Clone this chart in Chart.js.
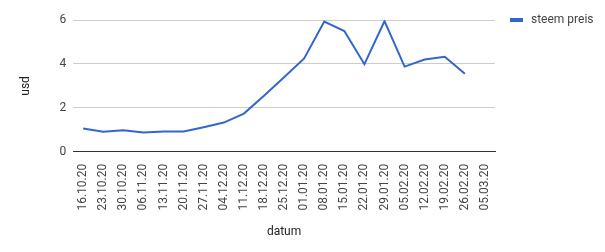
<!DOCTYPE html>
<html>
<head>
<meta charset="utf-8">
<script src="https://cdn.jsdelivr.net/npm/chart.js@4"></script>
<style>
  html, body { margin: 0; padding: 0; background: #fff; }
  #wrap { width: 605px; height: 252px; position: relative; }
</style>
</head>
<body>
<div id="wrap"><canvas id="chart"></canvas></div>
<script>
// weekly dates (dd.mm.yy)
const labels = [
  '16.10.20', '23.10.20', '30.10.20', '06.11.20', '13.11.20', '20.11.20', '27.11.20',
  '04.12.20', '11.12.20', '18.12.20', '25.12.20', '01.01.20', '08.01.20', '15.01.20',
  '22.01.20', '29.01.20', '05.02.20', '12.02.20', '19.02.20', '26.02.20', '05.03.20'
]

// steem price in usd, last week has no value yet
const steemPreis = [
  1.06, 0.91, 0.98, 0.88, 0.92, 0.92, 1.12,
  1.33, 1.74, 2.55, 3.39, 4.25, 5.93, 5.50,
  3.99, 5.95, 3.88, 4.20, 4.33, 3.55, null
]

const yTicks = [0, 2, 4, 6]

const seriesName = 'steem preis'
const lineColor = '#3366cc'
const fontFamily = "Roboto, Arial, sans-serif"

// Google-style legend drawn at the right, outside the plot
const sideLegend = {
  id: 'sideLegend',
  afterDraw(chart) {
    const { ctx, chartArea } = chart
    const x = chartArea.right + 15
    const y = chartArea.top
    ctx.save()
    ctx.fillStyle = lineColor
    ctx.fillRect(x, y - 2, 13, 4)
    ctx.fillStyle = '#444'
    ctx.font = `12px ${fontFamily}`
    ctx.textBaseline = 'middle'
    ctx.fillText(seriesName, x + 21, y)
    ctx.restore()
  }
}

const ctx = document.getElementById('chart').getContext('2d')

new Chart(ctx, {
  type: 'line',
  data: {
    labels: labels,
    datasets: [{
      label: seriesName,
      data: steemPreis,
      borderColor: lineColor,
      backgroundColor: lineColor,
      borderWidth: 2,
      pointRadius: 0,
      tension: 0,
      fill: false
    }]
  },
  options: {
    responsive: true,
    maintainAspectRatio: false,
    animation: false,
    layout: { padding: { top: 20, right: 110, left: 19, bottom: 13 } },
    plugins: {
      legend: { display: false },
      tooltip: { enabled: false }
    },
    scales: {
      x: {
        offset: true,
        grid: { display: false },
        border: { display: true, color: '#333', width: 1 },
        ticks: {
          minRotation: 90,
          maxRotation: 90,
          autoSkip: false,
          padding: 4,
          color: '#444',
          font: { family: fontFamily, size: 12 }
        },
        title: {
          display: true,
          text: 'datum',
          color: '#222',
          padding: { top: 10, bottom: 0 },
          font: { family: fontFamily, size: 12 }
        }
      },
      y: {
        min: 0,
        max: 6,
        afterBuildTicks: axis => { axis.ticks = yTicks.map(v => ({ value: v })) },
        grid: {
          color: c => c.tick.value === 0 ? 'rgba(0,0,0,0)' : '#cccccc',
          drawTicks: false
        },
        border: { display: false },
        ticks: {
          padding: 7,
          color: '#444',
          font: { family: fontFamily, size: 12 }
        },
        title: {
          display: true,
          text: 'usd',
          color: '#222',
          padding: { top: 0, bottom: 19 },
          font: { family: fontFamily, size: 12 }
        }
      }
    }
  },
  plugins: [sideLegend]
})
</script>
</body>
</html>
